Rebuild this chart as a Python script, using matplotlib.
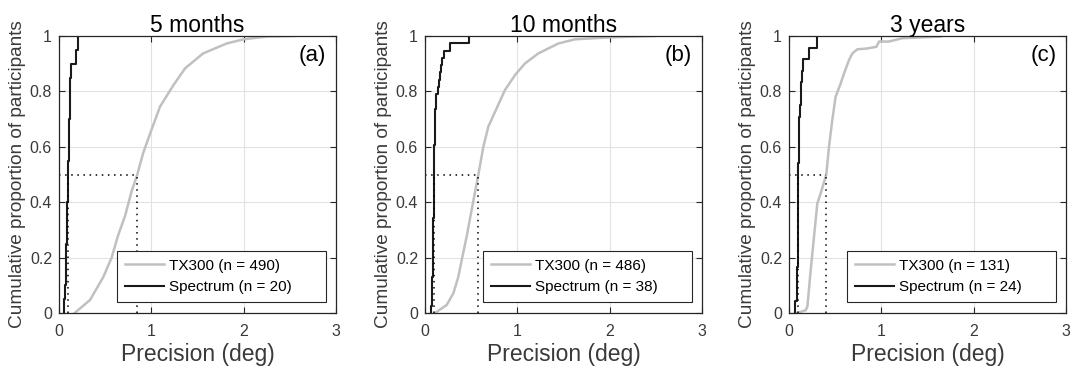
import numpy as np
import matplotlib
matplotlib.use("Agg")
import matplotlib.pyplot as plt

plt.rcParams['font.family'] = ['Liberation Sans', 'DejaVu Sans']

titles = ['5 months', '10 months', '3 years']
panel_tags = ['(a)', '(b)', '(c)']
n_tx300 = [490, 486, 131]

# TX300 cumulative curves (precision in deg, proportion)
tx300_x_a = [0.17, 0.336, 0.48, 0.57, 0.64, 0.715, 0.787, 0.848, 0.91, 1.0, 1.094,
             1.24, 1.365, 1.56, 1.816, 1.996, 2.25, 2.54]
tx300_y_a = [0.0, 0.047, 0.13, 0.20, 0.28, 0.35, 0.44, 0.50, 0.576, 0.66, 0.745,
             0.823, 0.883, 0.937, 0.973, 0.988, 0.998, 1.0]

tx300_x_b = [0.108, 0.235, 0.307, 0.361, 0.397, 0.451, 0.505, 0.578, 0.632, 0.686,
             0.776, 0.866, 0.975, 1.083, 1.227, 1.444, 1.625, 1.986, 2.49]
tx300_y_b = [0.0, 0.029, 0.071, 0.131, 0.19, 0.276, 0.372, 0.50, 0.60, 0.673,
             0.739, 0.805, 0.859, 0.901, 0.937, 0.973, 0.988, 0.995, 1.0]

tx300_x_c = [0.09, 0.18, 0.199, 0.235, 0.271, 0.307, 0.343, 0.404, 0.433, 0.469,
             0.505, 0.56, 0.596, 0.65, 0.686, 0.74, 0.848, 0.946, 0.975, 1.083,
             1.227, 1.643]
tx300_y_c = [0.0, 0.01, 0.023, 0.155, 0.276, 0.396, 0.432, 0.50, 0.60, 0.697,
             0.781, 0.829, 0.865, 0.913, 0.937, 0.952, 0.955, 0.961, 0.98, 0.98,
             0.992, 0.998]

# Spectrum individual precision values (sorted)
spectrum_a = [0.054, 0.068, 0.072, 0.076, 0.080, 0.084, 0.088, 0.092, 0.096, 0.099,
              0.102, 0.105, 0.108, 0.111, 0.114, 0.118, 0.123, 0.130, 0.184, 0.21]
spectrum_b = [0.065, 0.072, 0.076, 0.079, 0.081, 0.083, 0.085, 0.087, 0.088, 0.089,
              0.090, 0.091, 0.092, 0.093, 0.094, 0.095, 0.096, 0.096, 0.097, 0.098,
              0.099, 0.100, 0.102, 0.104, 0.106, 0.108, 0.110, 0.113, 0.116, 0.119,
              0.137, 0.152, 0.160, 0.173, 0.188, 0.209, 0.271, 0.48]
spectrum_c = [0.065, 0.087, 0.089, 0.091, 0.093, 0.094, 0.095, 0.096, 0.097, 0.098,
              0.099, 0.100, 0.101, 0.103, 0.106, 0.110, 0.112, 0.118, 0.125, 0.132,
              0.140, 0.152, 0.22, 0.30]

# medians marked with dotted lines
median_tx300 = [0.845, 0.578, 0.404]
median_spectrum = [0.10, 0.097, 0.10]

tx300_x = [tx300_x_a, tx300_x_b, tx300_x_c]
tx300_y = [tx300_y_a, tx300_y_b, tx300_y_c]
spectrum = [spectrum_a, spectrum_b, spectrum_c]

fig = plt.figure(figsize=(10.76, 3.74), dpi=100)
lefts = [59 / 1076, 425 / 1076, 789 / 1076]
w, h = 277 / 1076, 277 / 374
bottom = 61 / 374

axis_col = '#262626'
label_col = '#3a3a3a'
dot_style = (0, (1, 3))

for i in range(3):
    ax = fig.add_axes([lefts[i], bottom, w, h])
    vals = np.sort(np.array(spectrum[i]))
    n = len(vals)
    cum = np.arange(1, n + 1) / n

    ax.plot(tx300_x[i], tx300_y[i], color='#c0c0c0', lw=1.8,
            label='TX300 (n = %d)' % n_tx300[i])
    ax.step(np.r_[vals[0], vals], np.r_[0, cum], where='post', color='#1a1a1a',
            lw=1.5, label='Spectrum (n = %d)' % n)

    # dotted median markers
    ax.plot([0, median_tx300[i]], [0.5, 0.5], color='black', lw=1.1, ls=dot_style)
    ax.plot([median_tx300[i], median_tx300[i]], [0, 0.5], color='black', lw=1.1, ls=dot_style)
    ax.plot([median_spectrum[i], median_spectrum[i]], [0, 0.5], color='black', lw=1.1, ls=dot_style)

    ax.set_xlim(0, 3)
    ax.set_ylim(0, 1)
    ax.set_xticks([0, 1, 2, 3])
    ax.set_yticks([0, 0.2, 0.4, 0.6, 0.8, 1])
    ax.set_yticklabels(['0', '0.2', '0.4', '0.6', '0.8', '1'])
    ax.tick_params(direction='in', top=True, right=True, length=4, width=0.8,
                   labelsize=11.5, colors=axis_col, labelcolor=label_col)
    ax.tick_params(axis='x', pad=8)
    ax.tick_params(axis='y', pad=5)
    for sp in ax.spines.values():
        sp.set_color(axis_col)
        sp.set_linewidth(0.9)
    ax.grid(True, color='#e2e2e2', lw=0.8)
    ax.set_axisbelow(True)

    ax.set_title(titles[i], fontsize=16.5, pad=3)
    ax.set_xlabel('Precision (deg)', fontsize=16.5, color=label_col, labelpad=3)
    ax.set_ylabel('Cumulative proportion of participants', fontsize=13.7,
                  color=label_col, labelpad=3)
    ax.text(0.965, 0.93, panel_tags[i], transform=ax.transAxes, ha='right',
            va='center', fontsize=16)

    leg = ax.legend(loc='lower left', bbox_to_anchor=(0.209, 0.04, 0.755, 0.19),
                    mode='expand', borderaxespad=0, fontsize=11, handlelength=2.6,
                    handletextpad=0.3, fancybox=False, framealpha=1,
                    edgecolor=axis_col, borderpad=0.5, labelspacing=0.5)
    leg.get_frame().set_linewidth(0.8)

fig.savefig('out.png', dpi=100)
